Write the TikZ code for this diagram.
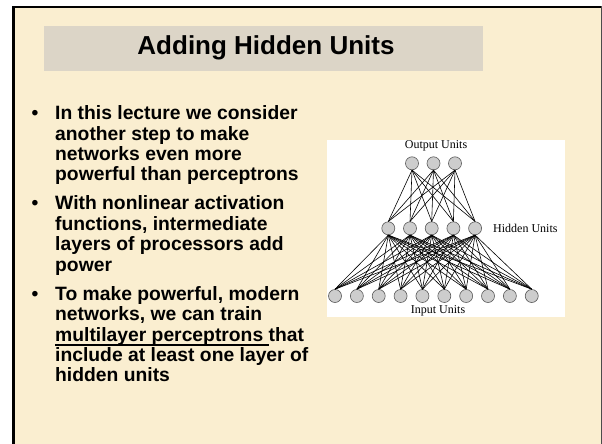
\documentclass[tikz,border=0pt]{standalone}
\usepackage{fontspec}
\setmainfont{Liberation Sans}
\newfontfamily\netfont{Liberation Serif}
\definecolor{cream}{RGB}{250,238,208}
\definecolor{titlebg}{RGB}{220,213,199}
\definecolor{unitfill}{RGB}{205,205,205}
\definecolor{unitline}{RGB}{90,90,90}
\newcommand{\myuline}[1]{\setbox0\hbox{#1}\rlap{\rule[-5pt]{\wd0}{1.7pt}}\box0}
\tikzset{
  textline/.style={anchor=base west, inner sep=0pt, font=\bfseries\fontsize{19.3}{20.4}\selectfont},
  bulletmark/.style={anchor=base, inner sep=0pt, font=\bfseries\fontsize{19.3}{20.4}\selectfont},
  unit/.style={circle, draw=unitline, fill=unitfill, line width=0.6pt, minimum size=13pt, inner sep=0pt},
  conn/.style={black, line width=0.6pt},
  netlabel/.style={inner sep=0pt, font=\netfont\fontsize{12}{14}\selectfont}
}
\begin{document}
\begin{tikzpicture}[x=1pt,y=-1pt]
\useasboundingbox (0,0) rectangle (602,444);
% slide background and frame
\fill[white] (0,0) rectangle (602,444);
\fill[cream] (13,7) rectangle (602,444);
\fill[black] (12,6) rectangle (15,444);
\fill[black] (12,6) rectangle (602,8);
\fill[black!70] (600.5,6) rectangle (602,444);
% title
\node[fill=titlebg, minimum width=439pt, minimum height=45pt, inner sep=0pt] (titlebar) at (263.5,48.3) {};
\node[inner sep=0pt, font=\bfseries\fontsize{26}{30}\selectfont] (title) at (266,47.5) {Adding Hidden Units};
% bullets
\node[bulletmark] (bu1) at (35,119.5) {\textbullet};
\node[textline] (l1a) at (55,119.5) {In this lecture we consider};
\node[textline] (l1b) at (55,140) {another step to make};
\node[textline] (l1c) at (55,160.3) {networks even more};
\node[textline] (l1d) at (55,180.5) {powerful than perceptrons};
\node[bulletmark] (bu2) at (35,209.5) {\textbullet};
\node[textline] (l2a) at (55,209.5) {With nonlinear activation};
\node[textline] (l2b) at (55,230) {functions, intermediate};
\node[textline] (l2c) at (55,250.5) {layers of processors add};
\node[textline] (l2d) at (55,271) {power};
\node[bulletmark] (bu3) at (35,300) {\textbullet};
\node[textline] (l3a) at (55,300) {To make powerful, modern};
\node[textline] (l3b) at (55,320.5) {networks, we can train};
\node[textline] (l3c) at (55,341) {\myuline{multilayer perceptrons }that};
\node[textline] (l3d) at (55,361.3) {include at least one layer of};
\node[textline] (l3e) at (55,381.7) {hidden units};
% network figure
\fill[white] (327,140) rectangle (565,317);
\foreach \k in {1,2,3} {
  \node[unit] (o\k) at ({433.5+21.5*(\k-2)},163.3) {};
}
\foreach \k in {1,...,5} {
  \node[unit] (h\k) at ({431.7+21.7*(\k-3)},228.3) {};
}
\foreach \k in {1,...,10} {
  \node[unit] (i\k) at ({335+21.86*(\k-1)},296) {};
}
\foreach \a in {1,2,3} {
  \foreach \b in {1,...,5} {
    \draw[conn] (o\a.south) -- (h\b.north);
  }
}
\foreach \b in {1,...,5} {
  \foreach \c in {1,...,10} {
    \draw[conn] (h\b.south) -- (i\c.north);
  }
}
\node[netlabel, anchor=base] (outlbl) at (436,148.5) {Output Units};
\node[netlabel, anchor=base west] (hidlbl) at (493,232) {Hidden Units};
\node[netlabel, anchor=base] (inlbl) at (438,313) {Input Units};
\end{tikzpicture}
\end{document}
